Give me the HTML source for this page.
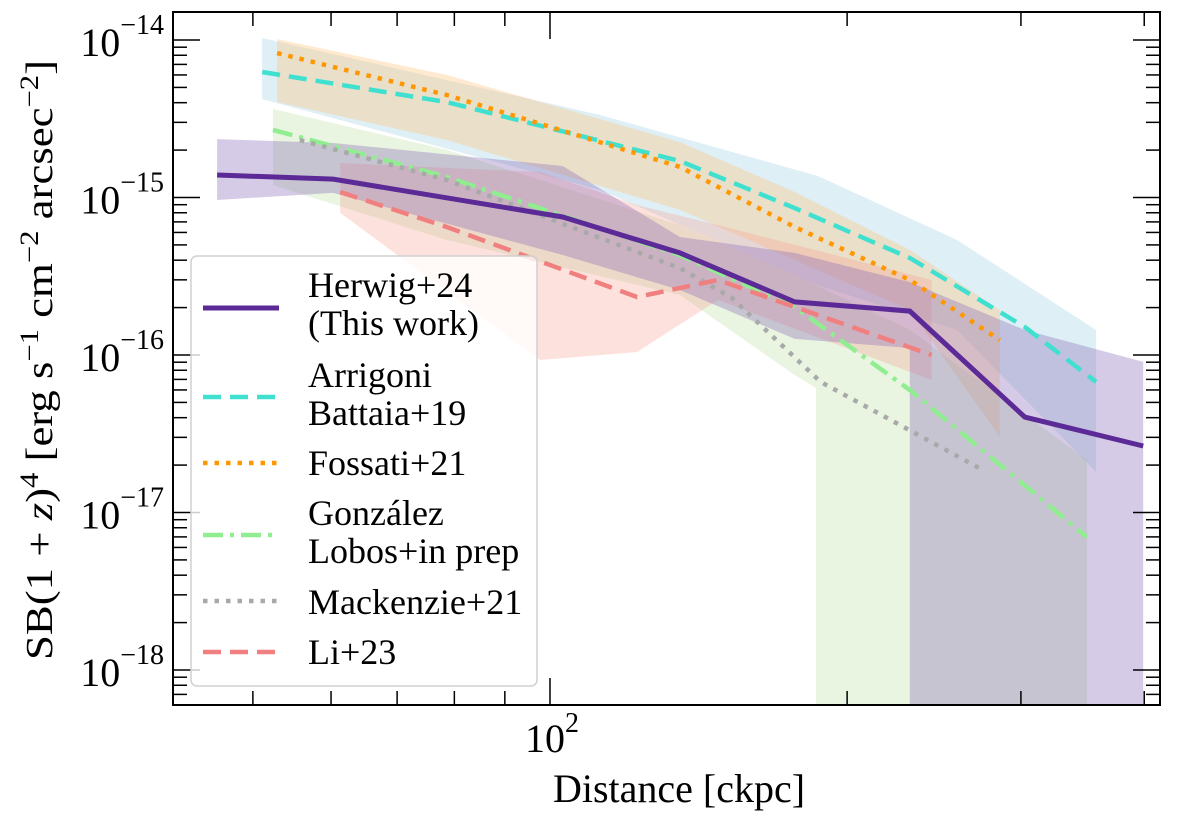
<!DOCTYPE html>
<html><head><meta charset="utf-8"><style>
body{margin:0;background:#fff}
svg{display:block}
svg text{font-family:"Liberation Serif","DejaVu Serif","Noto Serif CJK SC",serif}
</style></head><body>
<svg id="chart" width="1200" height="825" viewBox="0 0 1200 825">
<g id="bands"></g>
<g id="lines"></g>
<g id="axes"></g>
<text x="679" y="802" font-size="40" text-anchor="middle">Distance [ckpc]</text>
<text transform="translate(52,360) rotate(-90)" font-size="38" text-anchor="middle" textLength="600" lengthAdjust="spacingAndGlyphs">SB(1 + <tspan font-style="italic">z</tspan>)<tspan dy="-14" font-size="26">4</tspan><tspan dy="14"> [erg s</tspan><tspan dy="-14" font-size="26">−1</tspan><tspan dy="14"> cm</tspan><tspan dy="-14" font-size="26">−2</tspan><tspan dy="14"> arcsec</tspan><tspan dy="-14" font-size="26">−2</tspan><tspan dy="14">]</tspan></text>
<g id="legend">
<rect x="191" y="256" width="346" height="430" rx="6" fill="rgba(255,255,255,0.8)" stroke="#d0d0d0" stroke-width="1.5"/>
</g>
</svg>
<script>
// x in ckpc, y as log10 SB
const herwigX=[46,60.3,103,135.4,177,231.5,302.7,399];
const herwigY=[-14.857,-14.883,-15.124,-15.352,-15.663,-15.721,-16.394,-16.578];
const herwigBandX=[46,60.3,103,135.4,177,231.5,231.5,302.7,399];
const herwigBandHi=[-14.629,-14.654,-14.80,-15.251,-15.352,-15.537,-15.537,-15.841,-16.044];
const herwigBandLo=[-15.016,-14.971,-15.365,-15.587,-15.898,-15.956,-19,-19,-19];
const arrX=[51.1,78.6,135.4,177,231.5,302.7,357.5];
const arrY=[-14.203,-14.394,-14.768,-15.067,-15.384,-15.822,-16.171];
const arrBandX=[51.1,112.4,186.7,258.5,357.5];
const arrBandHi=[-13.987,-14.476,-14.863,-15.270,-15.841];
const arrBandLo=[-14.375,-14.952,-15.556,-15.841,-16.743];
const fosX=[52.9,78.6,135.4,177,231.5,285.6];
const fosY=[-14.083,-14.349,-14.806,-15.187,-15.524,-15.905];
const fosBandHi=[-13.994,-14.222,-14.648,-14.965,-15.333,-15.714];
const fosBandLo=[-14.394,-14.635,-15.079,-15.397,-15.714,-16.521];
const gonX=[52.4,78.6,135.4,177,231.5,350];
const gonY=[-14.571,-14.870,-15.365,-15.695,-16.222,-17.156];
const gonBandX=[52.4,78.6,135.4,177,186,186,231.5,350];
const gonBandHi=[-14.438,-14.698,-15.175,-15.492,-15.556,-15.556,-15.841,-16.667];
const gonBandLo=[-14.921,-15.270,-15.619,-16.127,-16.210,-19,-19,-19];
const macX=[55.8,78.6,135.4,152.9,188,272];
const macY=[-14.635,-14.889,-15.448,-15.638,-16.171,-16.717];
const liX=[61.3,78.6,122.5,148,243.6];
const liY=[-14.965,-15.187,-15.632,-15.524,-16.0];
const liBandX=[61.3,97.7,122.5,148,243.6];
const liBandHi=[-14.781,-14.838,-15.048,-15.175,-15.524];
const liBandLo=[-15.098,-16.032,-15.981,-15.651,-16.159];
const yTickExps=[-14,-15,-16,-17,-18];
const xMajorTicks=[100];
const xMinorTicks=[50,60,70,80,90,200,300,400];
const legendLabels=[["Herwig+24","(This work)"],["Arrigoni","Battaia+19"],["Fossati+21"],["González","Lobos+in prep"],["Mackenzie+21"],["Li+23"]];

const L=173,R=1160,T=12,B=705;
const NS="http://www.w3.org/2000/svg";
function sx(v){return 550+987*(Math.log10(v)-2);}
function sy(l){return 40+157.5*(-14-l);}
function mk(tag,attrs,parent){const e=document.createElementNS(NS,tag);for(const k in attrs)e.setAttribute(k,attrs[k]);parent.appendChild(e);return e;}
const svg=document.getElementById('chart');
const defs=mk('defs',{},svg);
const cp=mk('clipPath',{id:'clip'},defs);
mk('rect',{x:L,y:T,width:R-L,height:B-T},cp);
const bands=document.getElementById('bands'),lines=document.getElementById('lines'),axes=document.getElementById('axes');
bands.setAttribute('clip-path','url(#clip)');lines.setAttribute('clip-path','url(#clip)');

function band(xs,hi,lo,color,op,name){
  let d='M';
  for(let i=0;i<xs.length;i++)d+=sx(xs[i]).toFixed(1)+','+sy(hi[i]).toFixed(1)+' L';
  for(let i=xs.length-1;i>=0;i--)d+=sx(xs[i]).toFixed(1)+','+sy(lo[i]).toFixed(1)+(i?' L':' Z');
  const p=mk('path',{d:d,fill:color,'fill-opacity':op},bands);
  
  
}
function line(xs,ys,color,w,dash,name){
  const pts=xs.map((x,i)=>sx(x).toFixed(1)+','+sy(ys[i]).toFixed(1)).join(' ');
  const p=mk('polyline',{points:pts,fill:'none',stroke:color,'stroke-width':w,'stroke-dasharray':dash||'none'},lines);
  
  
}
band(arrBandX,arrBandHi,arrBandLo,'#add8e6',0.4,'arrigoni-band');
band(fosX,fosBandHi,fosBandLo,'#ffc680',0.38,'fossati-band');
band(gonBandX,gonBandHi,gonBandLo,'#b5d99c',0.3,'gonzalez-band');
band(liBandX,liBandHi,liBandLo,'#fa9a90',0.3,'li-band');
band(herwigBandX,herwigBandHi,herwigBandLo,'#8a6ab8',0.35,'herwig-band');

line(arrX,arrY,'#40e0d0',4.5,'18,9','arrigoni-line');
line(fosX,fosY,'#ff9800',4.5,'4.5,7','fossati-line');
line(gonX,gonY,'#90ee90',4.5,'20,7,4,7','gonzalez-line');
line(macX,macY,'#a9a9a9',4.5,'4.5,7','mackenzie-line');
line(liX,liY,'#f08080',4.5,'18,9','li-line');
line(herwigX,herwigY,'#5b2a96',5,null,'herwig-line');

const fr=mk('rect',{x:L,y:T,width:R-L,height:B-T,fill:'none',stroke:'#000','stroke-width':2},axes);


function tick(x1,y1,x2,y2){mk('line',{x1:x1,y1:y1,x2:x2,y2:y2,stroke:'#000','stroke-width':1.5},axes);}
function minors(e){for(let m=2;m<10;m++){const yy=sy(e+Math.log10(m));if(yy>T&&yy<B){tick(L,yy,L+14,yy);tick(R,yy,R-14,yy);}}}
yTickExps.forEach(e=>{
  const y=sy(e);tick(L,y,L+27,y);tick(R,y,R-27,y);
  const t=mk('text',{x:164,y:y+16,'font-size':40,'text-anchor':'end'},axes);
  
  
  const a=mk('tspan',{},t);a.textContent='10';
  const s=mk('tspan',{dy:-22,'font-size':28},t);s.textContent='−'+(-e);
  minors(e);
});
minors(-19);minors(-13);
xMajorTicks.forEach(v=>{
  const x=sx(v);tick(x,B,x,B-27);tick(x,T,x,T+27);
  const t=mk('text',{x:x-25,y:752,'font-size':40},axes);
  
  
  const a=mk('tspan',{},t);a.textContent='10';
  const s=mk('tspan',{dy:-20,'font-size':28},t);s.textContent='2';
});
xMinorTicks.forEach(v=>{const x=sx(v);tick(x,B,x,B-14);tick(x,T,x,T+14);});

const leg=document.getElementById('legend');
const legHandleY=[308,397,463,535,601,652];
const legStyles=[['#5b2a96',5,'none'],['#40e0d0',4.5,'18,9'],['#ff9800',4.5,'4.5,7'],['#90ee90',4.5,'20,7,4,7'],['#a9a9a9',4.5,'4.5,7'],['#f08080',4.5,'18,9']];
const legBase=[[297,335],[387,425],[475],[525,563],[614],[664]];
legendLabels.forEach((lab,i)=>{
  const g=mk('g',{},leg);
  
  
  const st=legStyles[i];
  mk('line',{x1:203,y1:legHandleY[i],x2:279,y2:legHandleY[i],stroke:st[0],'stroke-width':st[1],'stroke-dasharray':st[2]},g);
  lab.forEach((s,j)=>{const t=mk('text',{x:308,y:legBase[i][j],'font-size':36},g);t.textContent=s;});
});
</script>
</body></html>
